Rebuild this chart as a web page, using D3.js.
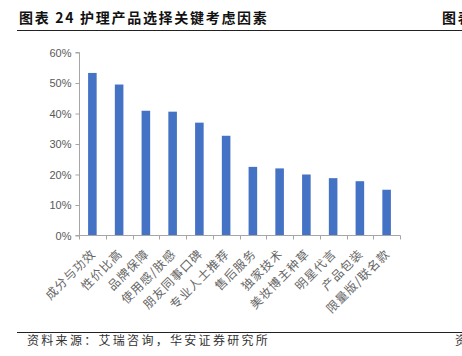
<!DOCTYPE html>
<html><head><meta charset="utf-8">
<script src="https://cdn.jsdelivr.net/npm/d3@7"></script>
<style>body{margin:0;background:#fff}svg{display:block}</style>
</head><body>
<script>
const categories = ["成分与功效","性价比高","品牌保障","使用感/肤感","朋友同事口碑","专业人士推荐","售后服务","独家技术","美妆博主种草","明星代言","产品包装","限量版/联名款"];
const values = [0.533, 0.495, 0.409, 0.406, 0.37, 0.327, 0.225, 0.22, 0.20, 0.188, 0.178, 0.15];
const yTicks = [0, 0.1, 0.2, 0.3, 0.4, 0.5, 0.6];
const title = "图表 24 护理产品选择关键考虑因素";
const source = "资料来源：艾瑞咨询，华安证券研究所";

const W = 462, H = 356;
const svg = d3.select("body").append("svg").attr("width", W).attr("height", H);
const cjk = "'Noto Sans CJK SC', sans-serif";

// header
svg.append("text").attr("x", 19).attr("y", 23).attr("font-family", cjk).attr("font-weight", "bold")
  .attr("font-size", 14).attr("letter-spacing", 1.7).attr("fill", "#111").text(title);
svg.append("text").attr("x", 442).attr("y", 23).attr("font-family", cjk).attr("font-weight", "bold")
  .attr("font-size", 14).attr("letter-spacing", 1.7).attr("fill", "#111").text("图表");
svg.append("line").attr("x1", 17).attr("x2", W).attr("y1", 30.5).attr("y2", 30.5).attr("stroke", "#222").attr("stroke-width", 1.2);

// footer
svg.append("line").attr("x1", 17).attr("x2", W).attr("y1", 332.5).attr("y2", 332.5).attr("stroke", "#222").attr("stroke-width", 1.2);
svg.append("text").attr("x", 27).attr("y", 345).attr("font-family", cjk).attr("font-size", 12)
  .attr("fill", "#333").attr("letter-spacing", 2.3).text(source);
svg.append("text").attr("x", 455).attr("y", 345).attr("font-family", cjk).attr("font-size", 12)
  .attr("fill", "#333").text("资");

const x = d3.scaleBand().domain(categories).range([79, 400]).paddingInner(0.68).paddingOuter(0.34);
const xb = d3.scaleBand().domain(categories).range([79, 400]);
const y = d3.scaleLinear().domain([0, 0.6]).range([235.5, 52.5]);

// bars
svg.append("g").selectAll("rect").data(values).join("rect")
  .attr("x", (d, i) => x(categories[i]))
  .attr("width", x.bandwidth())
  .attr("y", d => y(d))
  .attr("height", d => y(0) - y(d))
  .attr("fill", "#4472C4");

// y axis
const yAxis = d3.axisLeft(y).tickValues(yTicks).tickFormat(d3.format(".0%")).tickSize(4).tickPadding(4);
const gy = svg.append("g").attr("transform", "translate(79.5,0)").call(yAxis);
gy.select(".domain").attr("stroke", "#a6a6a6").attr("d", `M-4,${y(0.6)}H0V${y(0)}H-4`);
gy.selectAll(".tick line").attr("stroke", "#a6a6a6");
gy.selectAll(".tick text").attr("fill", "#595959").attr("font-size", 11).attr("font-family", "'Liberation Sans', Arial, sans-serif");

// x axis
const gx = svg.append("g").attr("transform", `translate(0,${y(0)})`);
gx.append("line").attr("x1", 79).attr("x2", 400.5).attr("stroke", "#a6a6a6");
const bounds = categories.map(c => xb(c)).concat([400]);
gx.selectAll(".tk").data(bounds).join("line").attr("class", "tk")
  .attr("x1", d => Math.round(d) + 0.5).attr("x2", d => Math.round(d) + 0.5).attr("y1", 0).attr("y2", 4)
  .attr("stroke", "#a6a6a6");
gx.selectAll(".lbl").data(categories).join("text").attr("class", "lbl")
  .attr("transform", c => `translate(${xb(c) + xb.bandwidth() / 2 + 4},${19}) rotate(-45)`)
  .attr("text-anchor", "end")
  .attr("font-family", cjk).attr("font-size", 12).attr("letter-spacing", 1)
  .attr("fill", "#666")
  .text(c => c);
</script>
</body></html>
